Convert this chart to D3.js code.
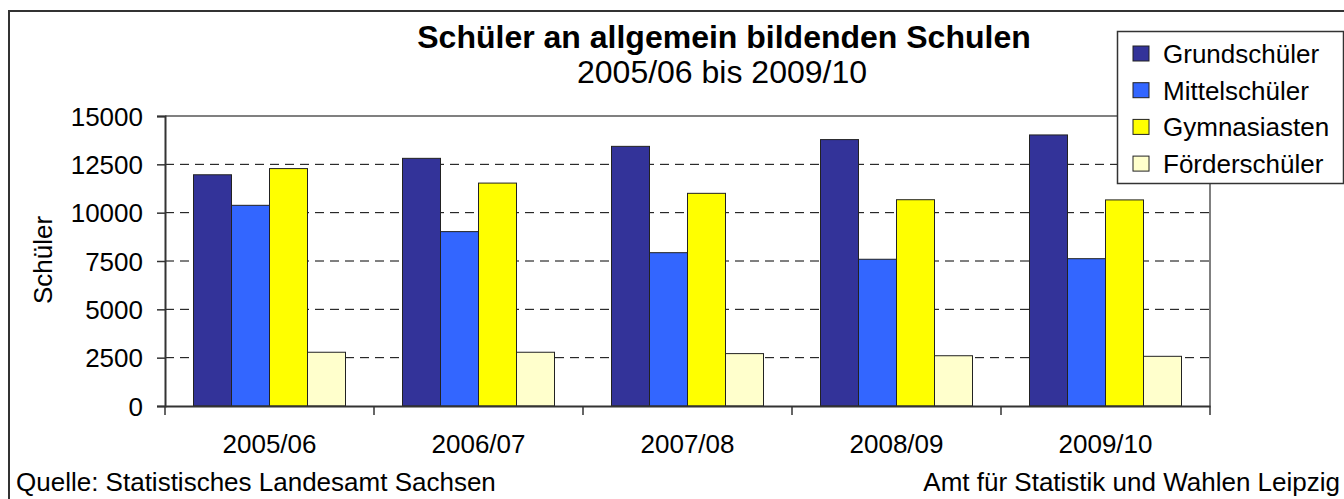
<!DOCTYPE html>
<html>
<head>
<meta charset="utf-8">
<script src="https://cdn.jsdelivr.net/npm/d3@7"></script>
<style>
  body { margin: 0; background: #fff; }
  svg text { font-family: "Liberation Sans", Arial, sans-serif; fill: #000; }
</style>
</head>
<body>
<div id="chart"></div>
<script>
// Chart data:
const years = ['2005/06', '2006/07', '2007/08', '2008/09', '2009/10'];
const seriesNames = ['Grundschüler', 'Mittelschüler', 'Gymnasiasten', 'Förderschüler'];
const seriesColors = ['#333399', '#3366ff', '#ffff00', '#ffffcc'];
const grundschueler = [11960, 12810, 13430, 13780, 14020];
const mittelschueler = [10380, 9020, 7930, 7590, 7620];
const gymnasiasten = [12280, 11530, 11000, 10670, 10660];
const foerderschueler = [2780, 2780, 2710, 2600, 2570];
const yTicks = [0, 2500, 5000, 7500, 10000, 12500, 15000];

const allSeries = [grundschueler, mittelschueler, gymnasiasten, foerderschueler];

// Canvas:
const svgWidth = 1344;
const svgHeight = 499;
const margin = { top: 116, right: 134, bottom: 93, left: 165 };
const chartWidth = svgWidth - margin.left - margin.right;
const chartHeight = svgHeight - margin.top - margin.bottom;

let svg = d3.select('#chart')
            .append('svg')
            .attr('width', svgWidth)
            .attr('height', svgHeight);

// outer frame (right and bottom edges fall outside the picture)
svg.append('rect')
   .attr('x', 9).attr('y', 11)
   .attr('width', svgWidth + 20).attr('height', svgHeight + 20)
   .attr('fill', 'none').attr('stroke', '#333').attr('stroke-width', 2);

let chartGroup = svg.append('g')
                    .attr('transform', `translate(${margin.left}, ${margin.top})`);

// scales:
let x0 = d3.scaleBand().domain(years).range([0, chartWidth]).paddingInner(0).paddingOuter(0);
let x1 = d3.scaleBand().domain(d3.range(seriesNames.length))
           .range([28.5, x0.bandwidth() - 28.5]);
let y = d3.scaleLinear().domain([0, 15000]).range([chartHeight, 0]);

// dashed gridlines:
chartGroup.append('g')
          .selectAll('line')
          .data(yTicks.filter(d => d > 0 && d < 15000))
          .join('line')
          .attr('x1', 0).attr('x2', chartWidth)
          .attr('y1', d => y(d)).attr('y2', d => y(d))
          .attr('stroke', '#000').attr('stroke-width', 1)
          .attr('stroke-dasharray', '9,6');

// plot frame top/right:
chartGroup.append('path')
          .attr('d', `M0,${y(15000)}H${chartWidth}V${chartHeight}`)
          .attr('fill', 'none').attr('stroke', '#808080').attr('stroke-width', 2);

// bars:
let groups = chartGroup.selectAll('g.year')
                       .data(years)
                       .join('g')
                       .classed('year', true)
                       .attr('transform', d => `translate(${x0(d)},0)`);

groups.selectAll('rect')
      .data((d, i) => allSeries.map((s, k) => ({ k: k, v: s[i] })))
      .join('rect')
      .attr('x', d => x1(d.k))
      .attr('width', x1.bandwidth())
      .attr('y', d => y(d.v))
      .attr('height', d => chartHeight - y(d.v))
      .attr('fill', d => seriesColors[d.k])
      .attr('stroke', '#222').attr('stroke-width', 1);

// y axis:
let leftAxis = d3.axisLeft(y).tickValues(yTicks).tickSize(8).tickPadding(14).tickFormat(d3.format('d'));
let yAxis = chartGroup.append('g').call(leftAxis);
yAxis.select('.domain').attr('stroke', '#333').attr('stroke-width', 2);
yAxis.selectAll('.tick line').attr('stroke', '#333').attr('stroke-width', 1.5);
yAxis.selectAll('.tick text').attr('font-size', 26).attr('font-family', '"Liberation Sans", Arial, sans-serif').attr('dy', '0.35em');

// x axis:
let bottomAxis = d3.axisBottom(x0).tickSize(0).tickPadding(29);
let xAxis = chartGroup.append('g')
                      .attr('transform', `translate(0, ${chartHeight})`)
                      .call(bottomAxis);
xAxis.select('.domain').attr('stroke', '#333').attr('stroke-width', 2);
xAxis.selectAll('.tick text').attr('font-size', 26).attr('font-family', '"Liberation Sans", Arial, sans-serif');
// category separators ticks
xAxis.append('g')
     .selectAll('line')
     .data(years.map(d => x0(d)).concat([chartWidth]))
     .join('line')
     .attr('x1', d => d).attr('x2', d => d)
     .attr('y1', 0).attr('y2', 9)
     .attr('stroke', '#333').attr('stroke-width', 1.5);

// y label:
svg.append('text')
   .attr('transform', 'translate(52, 260) rotate(-90)')
   .attr('text-anchor', 'middle')
   .attr('font-size', 26)
   .text('Schüler');

// titles:
svg.append('text')
   .attr('x', 724).attr('y', 48)
   .attr('text-anchor', 'middle')
   .attr('font-size', 32).attr('font-weight', 'bold')
   .text('Schüler an allgemein bildenden Schulen');
svg.append('text')
   .attr('x', 722).attr('y', 83)
   .attr('text-anchor', 'middle')
   .attr('font-size', 32)
   .text('2005/06 bis 2009/10');

// footers:
svg.append('text')
   .attr('x', 16).attr('y', 491)
   .attr('font-size', 26)
   .text('Quelle: Statistisches Landesamt Sachsen');
svg.append('text')
   .attr('x', 1340).attr('y', 491)
   .attr('text-anchor', 'end')
   .attr('font-size', 26)
   .text('Amt für Statistik und Wahlen Leipzig');

// legend:
let legend = svg.append('g');
legend.append('rect')
      .attr('x', 1117.5).attr('y', 31.5)
      .attr('width', 226).attr('height', 152)
      .attr('fill', '#fff').attr('stroke', '#333').attr('stroke-width', 1.5);
let items = legend.selectAll('g.item')
                  .data(seriesNames)
                  .join('g')
                  .attr('transform', (d, i) => `translate(1133, ${53.5 + i * 36.7})`);
items.append('rect')
     .attr('x', 0).attr('y', -7.5)
     .attr('width', 16).attr('height', 15)
     .attr('fill', (d, i) => seriesColors[i])
     .attr('stroke', '#222').attr('stroke-width', 1);
items.append('text')
     .attr('x', 30).attr('y', 9.5)
     .attr('font-size', 26)
     .text(d => d);
</script>
</body>
</html>
